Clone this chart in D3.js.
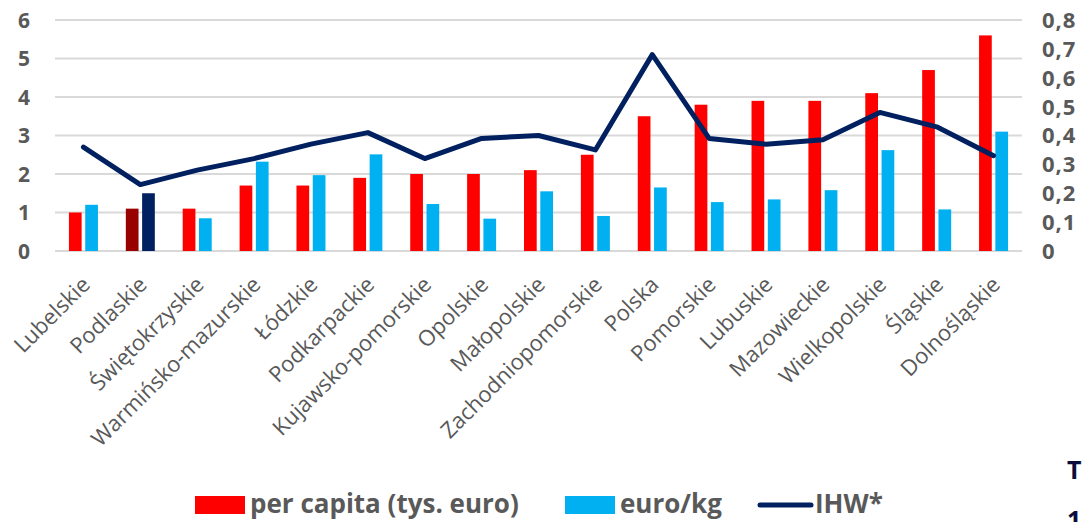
<!DOCTYPE html>
<html><head><meta charset="utf-8">
<script src="https://cdn.jsdelivr.net/npm/d3@7"></script>
<style>body{margin:0;background:#fff;overflow:hidden}</style>
</head><body><svg id="c" width="1083" height="522"></svg>
<script>
const categories = ["Lubelskie","Podlaskie","Świętokrzyskie","Warmińsko-mazurskie","Łódzkie","Podkarpackie","Kujawsko-pomorskie","Opolskie","Małopolskie","Zachodniopomorskie","Polska","Pomorskie","Lubuskie","Mazowieckie","Wielkopolskie","Śląskie","Dolnośląskie"];
const perCapita = [1.0,1.1,1.1,1.7,1.7,1.9,2.0,2.0,2.1,2.5,3.5,3.8,3.9,3.9,4.1,4.7,5.6];
const euroPerKg = [1.2,1.5,0.85,2.32,1.97,2.51,1.22,0.84,1.55,0.91,1.65,1.27,1.34,1.58,2.62,1.08,3.1];
const ihw = [0.36,0.23,0.28,0.32,0.37,0.41,0.32,0.39,0.40,0.35,0.68,0.39,0.37,0.385,0.48,0.43,0.33];
const leftTicks = [0,1,2,3,4,5,6];
const rightTicks = [0,0.1,0.2,0.3,0.4,0.5,0.6,0.7,0.8];
const highlighted = "Podlaskie";
const legendLabels = ["per capita (tys. euro)","euro/kg","IHW*"];

const C = {red:"#ff0000", darkRed:"#990000", blue:"#00b0f0", navy:"#002060", grid:"#d9d9d9", text:"#595959"};
const svg = d3.select("#c");
const plotTop = 20, plotBottom = 251, plotLeft = 55, plotRight = 1022;
const x = d3.scaleBand().domain(categories).range([plotLeft, plotRight]).padding(0);
const yL = d3.scaleLinear().domain([0,6]).range([plotBottom, plotTop]);
const yR = d3.scaleLinear().domain([0,0.8]).range([plotBottom, plotTop]);
const inner = d3.scaleBand().domain(["pc","kg"]).range([-14.5,14.5]).paddingInner(0.22);
const fmt = d3.formatLocale({decimal:",",thousands:" ",grouping:[3],currency:["",""]}).format(".1~f");

// grid
svg.append("g").selectAll("line").data(leftTicks).join("line")
  .attr("x1", plotLeft).attr("x2", plotRight)
  .attr("y1", d=>yL(d)).attr("y2", d=>yL(d))
  .attr("stroke", C.grid).attr("stroke-width", 2);

// left axis labels
svg.append("g").selectAll("text").data(leftTicks).join("text")
  .attr("x", 30).attr("y", d=>yL(d)).attr("dy","0.36em")
  .attr("text-anchor","end").attr("font-family","Open Sans").attr("font-weight","bold")
  .attr("font-size",21).attr("fill",C.text).text(d=>d);
// right axis labels
svg.append("g").selectAll("text").data(rightTicks).join("text")
  .attr("x", 1042).attr("y", d=>yR(d)).attr("dy","0.36em")
  .attr("text-anchor","start").attr("font-family","Open Sans").attr("font-weight","bold")
  .attr("font-size",22).attr("letter-spacing",1).attr("fill",C.text).text(d=>fmt(d));

// bars
const g = svg.append("g");
g.selectAll("rect.pc").data(categories).join("rect").attr("class","pc")
  .attr("x",(d)=>x(d)+x.bandwidth()/2+inner("pc"))
  .attr("width", inner.bandwidth())
  .attr("y",(d,i)=>yL(perCapita[i]))
  .attr("height",(d,i)=>plotBottom-yL(perCapita[i]))
  .attr("fill",d=>d===highlighted?C.darkRed:C.red);
g.selectAll("rect.kg").data(categories).join("rect").attr("class","kg")
  .attr("x",(d)=>x(d)+x.bandwidth()/2+inner("kg"))
  .attr("width", inner.bandwidth())
  .attr("y",(d,i)=>yL(euroPerKg[i]))
  .attr("height",(d,i)=>plotBottom-yL(euroPerKg[i]))
  .attr("fill",d=>d===highlighted?C.navy:C.blue);

// line
const line = d3.line().x((d,i)=>x(categories[i])+x.bandwidth()/2).y(d=>yR(d));
svg.append("path").datum(ihw).attr("d",line).attr("fill","none")
  .attr("stroke",C.navy).attr("stroke-width",5).attr("stroke-linejoin","round").attr("stroke-linecap","round");

// category labels
svg.append("g").selectAll("text").data(categories).join("text")
  .attr("transform",d=>`translate(${x(d)+x.bandwidth()/2+8},286) rotate(-45)`)
  .attr("text-anchor","end").attr("font-family","Open Sans").attr("font-size",22)
  .attr("fill",C.text).text(d=>d);

// legend
const lg = svg.append("g").attr("font-family","Open Sans").attr("font-weight","bold").attr("font-size",26).attr("fill",C.text);
lg.append("rect").attr("x",195).attr("y",496).attr("width",50).attr("height",18).attr("fill",C.red);
lg.append("text").attr("x",250).attr("y",513).text(legendLabels[0]);
lg.append("rect").attr("x",565).attr("y",496).attr("width",50).attr("height",18).attr("fill",C.blue);
lg.append("text").attr("x",620).attr("y",513).text(legendLabels[1]);
lg.append("line").attr("x1",760).attr("x2",811).attr("y1",505).attr("y2",505).attr("stroke",C.navy).attr("stroke-width",5).attr("stroke-linecap","round");
lg.append("text").attr("x",815).attr("y",513).text(legendLabels[2]);

// cut-off slide text at right
svg.append("text").attr("x",1067).attr("y",479).attr("font-family","Open Sans").attr("font-weight","bold").attr("font-size",25).attr("fill","#0c0c3c").text("T");
svg.append("text").attr("x",1067).attr("y",529).attr("font-family","Open Sans").attr("font-weight","bold").attr("font-size",25).attr("fill","#0c0c3c").text("1");
</script></body></html>
